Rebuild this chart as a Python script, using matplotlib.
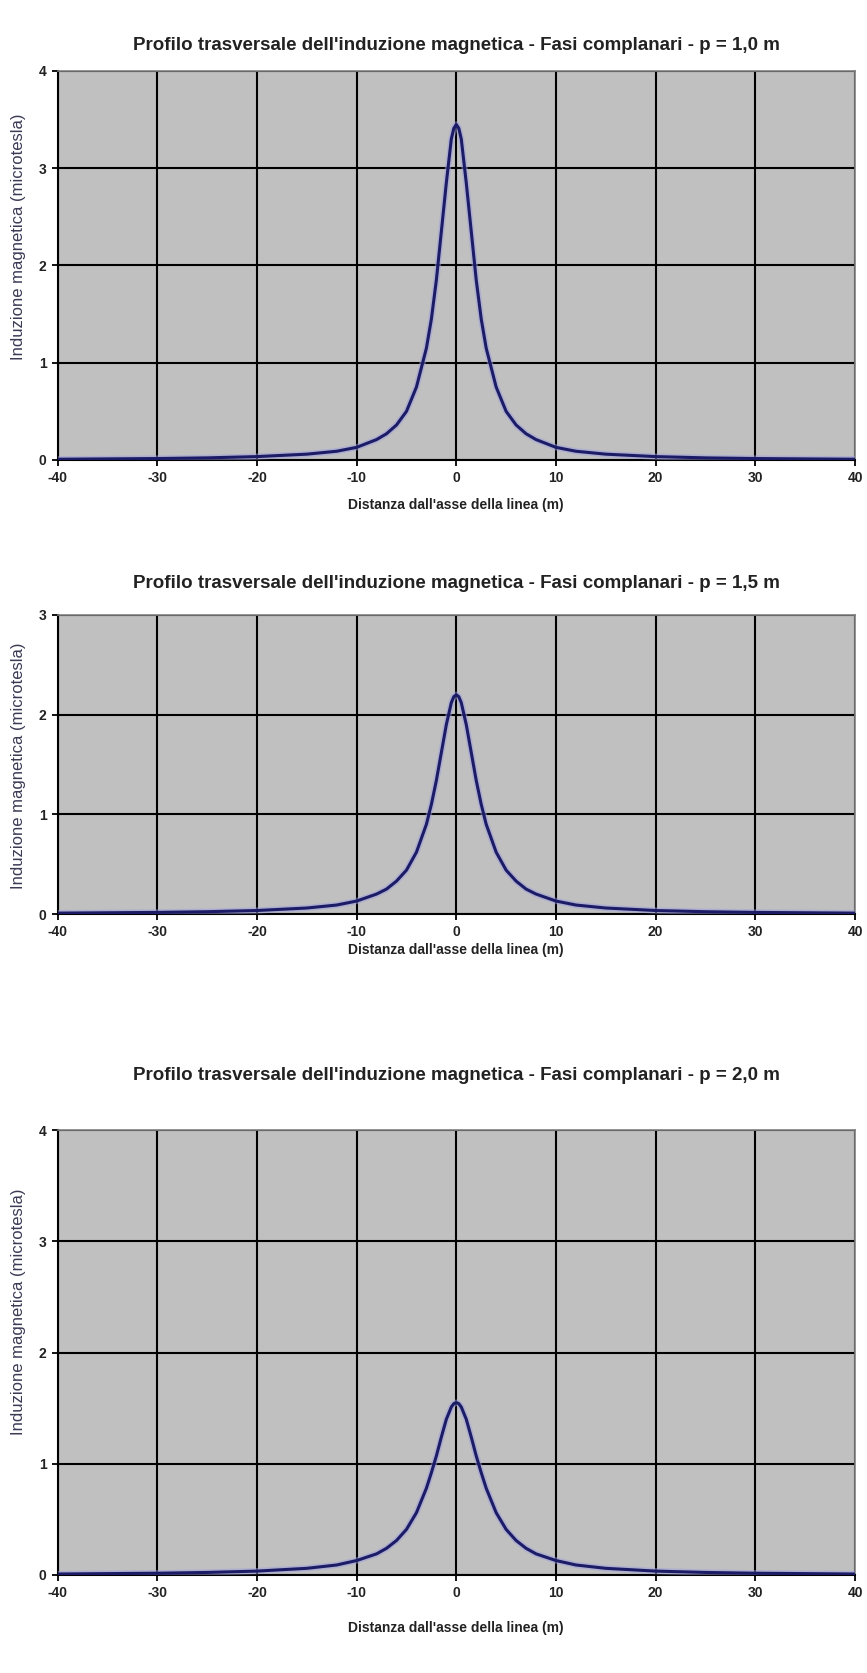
import matplotlib
matplotlib.use('Agg')
import matplotlib.pyplot as plt
from matplotlib.ticker import FuncFormatter

plt.rcParams['font.family'] = ['Liberation Sans', 'DejaVu Sans']

# distanza dall'asse (m) - metà positiva, simmetrica
dist = [0, 0.25, 0.5, 1, 1.5, 2, 2.5, 3, 4, 5, 6, 7, 8, 10, 12, 15, 20, 25, 30, 40]

B_p10 = [3.45, 3.41, 3.30, 2.85, 2.35, 1.85, 1.45, 1.15, 0.75, 0.50, 0.36, 0.27, 0.21,
         0.13, 0.09, 0.06, 0.035, 0.022, 0.015, 0.008]
B_p15 = [2.20, 2.18, 2.12, 1.90, 1.62, 1.34, 1.10, 0.90, 0.62, 0.44, 0.33, 0.25, 0.20,
         0.13, 0.09, 0.06, 0.035, 0.023, 0.016, 0.009]
B_p20 = [1.55, 1.54, 1.51, 1.40, 1.24, 1.07, 0.92, 0.78, 0.56, 0.41, 0.31, 0.24, 0.19,
         0.13, 0.09, 0.06, 0.035, 0.023, 0.016, 0.009]

titoli = ["Profilo trasversale dell'induzione magnetica - Fasi complanari - p = 1,0 m",
          "Profilo trasversale dell'induzione magnetica - Fasi complanari - p = 1,5 m",
          "Profilo trasversale dell'induzione magnetica - Fasi complanari - p = 2,0 m"]
ymax = [4, 3, 4]
serie = [B_p10, B_p15, B_p20]

W, H = 867, 1673
fig = plt.figure(figsize=(W / 100, H / 100), dpi=100)

# (top, bottom, titolo y, xlabel y, ylabel y) in pixel
box = [(71, 460, 45, 505, 237),
       (615, 914, 584, 950, 766),
       (1130, 1575, 1075, 1628, 1312)]
left, right = 57.6, 855

fmt = FuncFormatter(lambda v, p: '%d' % v)

for i in range(3):
    top, bot, ty, xy, yy = box[i]
    ax = fig.add_axes([left / W, 1 - bot / H, (right - left) / W, (bot - top) / H])
    ax.set_facecolor('#c0c0c0')
    x = [-d for d in dist[::-1]] + dist[1:]
    y = serie[i][::-1] + serie[i][1:]
    ax.plot(x, y, color='#9c9ce0', lw=4.5, alpha=0.5, zorder=3)
    ax.plot(x, y, color='#1c1c66', lw=2.2, zorder=4)
    ax.set_xlim(-40, 40)
    ax.set_ylim(0, ymax[i])
    ax.set_xticks(range(-40, 41, 10))
    ax.set_yticks(range(0, ymax[i] + 1))
    ax.xaxis.set_major_formatter(fmt)
    ax.yaxis.set_major_formatter(fmt)
    ax.grid(True, color='black', lw=1.5)
    ax.set_axisbelow(True)
    for s in ['top', 'right']:
        ax.spines[s].set_color('#808080')
        ax.spines[s].set_linewidth(1.2)
    for s in ['left', 'bottom']:
        ax.spines[s].set_color('black')
        ax.spines[s].set_linewidth(1.5)
    ax.tick_params(direction='out', length=4, width=1.3, labelsize=10, pad=4,
                   labelcolor='#222222')
    for lab in ax.get_xticklabels() + ax.get_yticklabels():
        lab.set_fontweight('bold')
    fig.text(0.5 * (left + right) / W, 1 - ty / H, titoli[i], ha='center', va='center',
             fontsize=13.5, fontweight='bold', color='#222222')
    fig.text(0.5 * (left + right) / W, 1 - xy / H, "Distanza dall'asse della linea (m)",
             ha='center', va='center', fontsize=10, fontweight='bold', color='#222222')
    fig.text(19 / W, 1 - yy / H, "Induzione magnetica (microtesla)", rotation=90,
             ha='center', va='center', fontsize=12, color='#3a3a55')

fig.savefig('out.png', dpi=100)
